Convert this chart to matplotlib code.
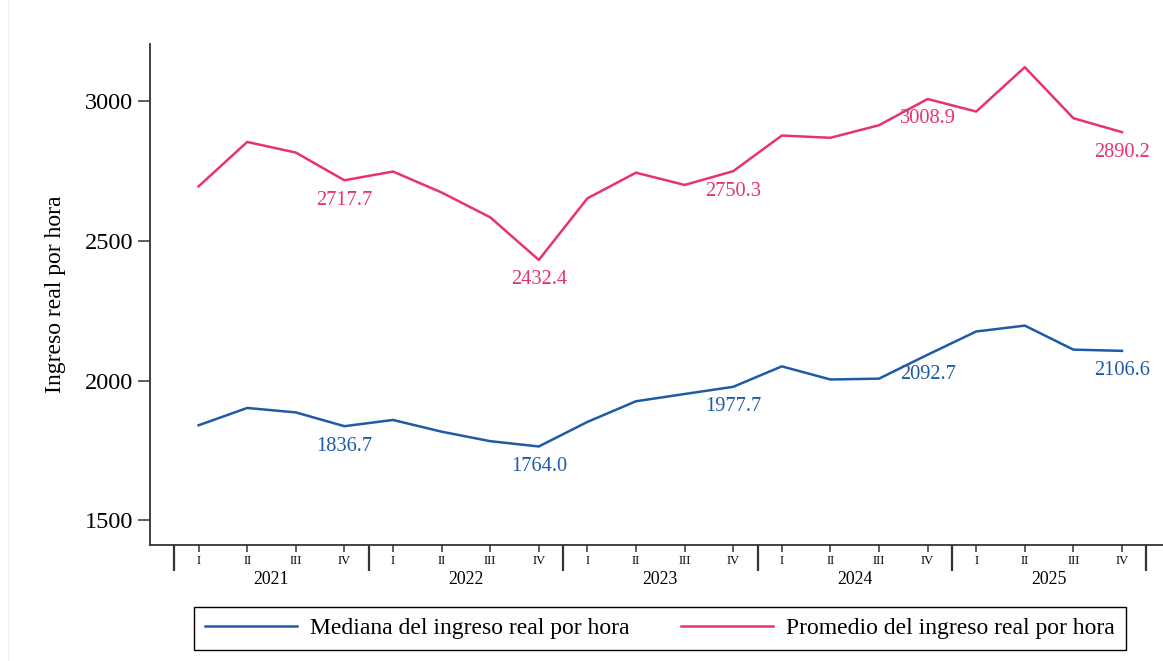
import matplotlib
matplotlib.use("Agg")
import matplotlib.pyplot as plt
from matplotlib.lines import Line2D
import matplotlib.transforms as mtransforms

plt.rcParams['font.family'] = ['Liberation Serif', 'DejaVu Serif']

years = ["2021", "2022", "2023", "2024", "2025"]
quarters = ["I", "II", "III", "IV"]

mediana = [1840, 1902, 1886, 1836.7, 1859, 1817, 1783, 1764.0, 1852, 1926,
           1952, 1977.7, 2051, 2004, 2007, 2092.7, 2176, 2197, 2111, 2106.6]
promedio = [2696, 2855, 2817, 2717.7, 2749, 2674, 2585, 2432.4, 2653, 2745,
            2701, 2750.3, 2878, 2870, 2915, 3008.9, 2964, 3123, 2940, 2890.2]
labeled_idx = [3, 7, 11, 15, 19]

blue = "#1f5aa6"
pink = "#e8336b"

W, H = 1163, 661
fig = plt.figure(figsize=(W / 100, H / 100), dpi=100)
ax_left, ax_right, ax_top, ax_bottom = 150, 1163, 44, 545
ax = fig.add_axes([ax_left / W, (H - ax_bottom) / H, (ax_right - ax_left) / W, (ax_bottom - ax_top) / H])

n = len(mediana)
x = list(range(n))
ax.plot(x, mediana, color=blue, lw=1.8, label="Mediana del ingreso real por hora")
ax.plot(x, promedio, color=pink, lw=1.8, label="Promedio del ingreso real por hora")

for i in labeled_idx:
    ax.annotate(f"{mediana[i]:.1f}", (x[i], mediana[i]), xytext=(0, -7.5), textcoords="offset points",
                ha="center", va="top", color=blue, fontsize=14.7)
    ax.annotate(f"{promedio[i]:.1f}", (x[i], promedio[i]), xytext=(0, -7.5), textcoords="offset points",
                ha="center", va="top", color=pink, fontsize=14.7)

ax.set_xlim(-1, -1 + (ax_right - ax_left) / 48.6)
ax.set_ylim(1411, 3206)

for s in ["top", "right"]:
    ax.spines[s].set_visible(False)
for s in ["left", "bottom"]:
    ax.spines[s].set_color("#333333")
    ax.spines[s].set_linewidth(1.3)

ax.set_yticks([1500, 2000, 2500, 3000])
ax.tick_params(axis="y", length=9, width=1.1, color="#333333", pad=3, labelsize=17.5)

ax.set_xticks(x)
ax.set_xticklabels([quarters[i % 4] for i in x])
ax.tick_params(axis="x", which="major", length=5, width=1.1, color="#333333", pad=2, labelsize=9)
bounds = [k * 4 - 0.5 for k in range(len(years) + 1)]
ax.set_xticks(bounds, minor=True)
ax.tick_params(axis="x", which="minor", length=19, width=1.6, color="#333333")

trans = mtransforms.blended_transform_factory(ax.transData, ax.transAxes)
for k, yr in enumerate(years):
    ax.text(k * 4 + 1.5, -(580 - ax_bottom) / (ax_bottom - ax_top), yr, transform=trans,
            ha="center", va="center", fontsize=12.8)

fig.text(56 / W, 1 - 294 / H, "Ingreso real por hora", rotation=90, ha="center", va="center", fontsize=17)

leg = fig.legend(loc="center", bbox_to_anchor=((193 + 1127) / 2 / W, 1 - 628.5 / H), ncol=2,
                 fontsize=17, frameon=True, fancybox=False, edgecolor="black", framealpha=1,
                 handlelength=3.9, handletextpad=0.55, columnspacing=2.2, borderpad=0.45,
                 borderaxespad=0)
leg.get_frame().set_linewidth(1.0)

fig.add_artist(Line2D([8 / W, 8 / W], [0, 1], transform=fig.transFigure, color="#eef3f5", lw=1))

fig.savefig("out.png", dpi=100)
